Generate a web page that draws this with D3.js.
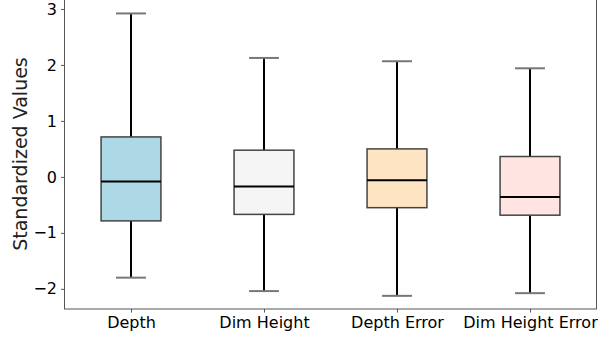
<!DOCTYPE html>
<html><head><meta charset="utf-8">
<script src="https://cdn.jsdelivr.net/npm/d3@7"></script>
<style>body{margin:0;background:#fff}svg{display:block}text{font-family:"DejaVu Sans",sans-serif}</style>
</head><body><svg id="c" width="608" height="339"></svg>
<script>
const categories = ["Depth", "Dim Height", "Depth Error", "Dim Height Error"];
const whiskerLow = [-1.80, -2.04, -2.125, -2.077];
const q1 = [-0.786, -0.67, -0.55, -0.684];
const median = [-0.083, -0.17, -0.06, -0.357];
const q3 = [0.714, 0.477, 0.50, 0.364];
const whiskerHigh = [2.92, 2.125, 2.066, 1.94];
const fills = ["#ADD8E6", "#F5F5F5", "#FFE4C4", "#FFE4E1"];
const yTicks = [-2, -1, 0, 1, 2, 3];

const data = categories.map((c, i) => ({c, lo: whiskerLow[i], q1: q1[i], med: median[i], q3: q3[i], hi: whiskerHigh[i], fill: fills[i]}));

const svg = d3.select("#c");
const mLeft = 64.5, mRight = 596.5, mBottom = 309, mTop = -10;
const y = d3.scaleLinear().domain([-2.36, 3.16]).range([mBottom, 0]);
const x = d3.scaleLinear().domain([0.5, 4.5]).range([mLeft, mRight]);
const bw = 0.45, cw = 0.225;
const px = v => x(v) - x(0);

const g = svg.append("g");
data.forEach((d, i) => {
  const cx = x(i + 1);
  g.append("line").attr("x1", cx).attr("x2", cx).attr("y1", y(d.q3)).attr("y2", y(d.hi)).attr("stroke", "#000").attr("stroke-width", 2);
  g.append("line").attr("x1", cx).attr("x2", cx).attr("y1", y(d.q1)).attr("y2", y(d.lo)).attr("stroke", "#000").attr("stroke-width", 2);
  [d.lo, d.hi].forEach(v => g.append("line").attr("x1", cx - px(cw) / 2).attr("x2", cx + px(cw) / 2).attr("y1", y(v)).attr("y2", y(v)).attr("stroke", "#777").attr("stroke-width", 2));
  g.append("rect").attr("x", cx - px(bw) / 2).attr("width", px(bw)).attr("y", y(d.q3)).attr("height", y(d.q1) - y(d.q3))
    .attr("fill", d.fill).attr("stroke", "#444").attr("stroke-width", 1.5);
  g.append("line").attr("x1", cx - px(bw) / 2).attr("x2", cx + px(bw) / 2).attr("y1", y(d.med)).attr("y2", y(d.med)).attr("stroke", "#000").attr("stroke-width", 2);
});

svg.append("rect").attr("x", mLeft).attr("y", mTop).attr("width", mRight - mLeft).attr("height", mBottom - mTop)
  .attr("fill", "none").attr("stroke", "#555").attr("stroke-width", 1);

const ya = svg.append("g").attr("transform", `translate(${mLeft},0)`)
  .call(d3.axisLeft(y).tickValues(yTicks).tickSize(3.5).tickPadding(4).tickFormat(d => d < 0 ? "\u2212" + Math.abs(d) : d));
ya.select(".domain").remove();
ya.selectAll("line").attr("stroke", "#555");
ya.selectAll("text").attr("font-size", 16).attr("fill", "#000");

const xa = svg.append("g").attr("transform", `translate(0,${mBottom})`)
  .call(d3.axisBottom(x).tickValues([1, 2, 3, 4]).tickSize(3.5).tickPadding(4).tickFormat(d => categories[d - 1]));
xa.select(".domain").remove();
xa.selectAll("line").attr("stroke", "#555");
xa.selectAll("text").attr("font-size", 16).attr("fill", "#000");

svg.append("text").attr("transform", "translate(27,154) rotate(-90)").attr("text-anchor", "middle")
  .attr("font-size", 19).attr("fill", "#222").text("Standardized Values");
</script></body></html>
